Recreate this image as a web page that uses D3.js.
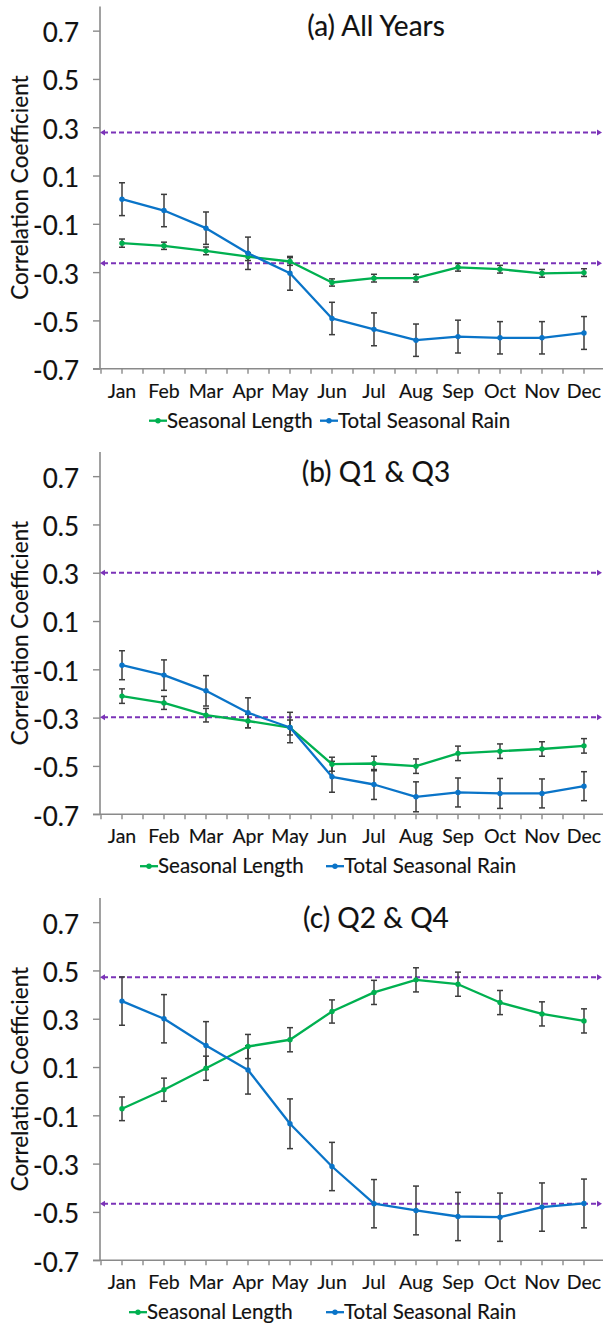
<!DOCTYPE html>
<html>
<head>
<meta charset="utf-8">
<script src="https://cdn.jsdelivr.net/npm/d3@7"></script>
<style>
  html, body { margin: 0; padding: 0; background: #fff; }
  svg { display: block; }
  text { font-family: Lato, Carlito, Calibri, "Open Sans", sans-serif; fill: #111; stroke: #111; stroke-width: 0.15px; }
</style>
</head>
<body>
<svg id="chart" width="603" height="1324"></svg>
<script>
// Months on the category axis
const months = ["Jan", "Feb", "Mar", "Apr", "May", "Jun", "Jul", "Aug", "Sep", "Oct", "Nov", "Dec"];
const yTicks = [0.7, 0.5, 0.3, 0.1, -0.1, -0.3, -0.5, -0.7];
const panelTitles = ["(a) All Years", "(b) Q1 & Q3", "(c) Q2 & Q4"];
const seriesNames = ["Seasonal Length", "Total Seasonal Rain"];

// (a) All years
const lengthA    = [-0.180, -0.191, -0.212, -0.236, -0.256, -0.343, -0.325, -0.325, -0.280, -0.288, -0.305, -0.302];
const lengthErrA = [0.017, 0.015, 0.016, 0.016, 0.016, 0.015, 0.016, 0.016, 0.016, 0.016, 0.016, 0.016];
const rainA      = [0.002, -0.045, -0.118, -0.222, -0.305, -0.492, -0.537, -0.582, -0.567, -0.572, -0.572, -0.552];
const rainErrA   = [0.068, 0.067, 0.067, 0.067, 0.070, 0.067, 0.068, 0.067, 0.068, 0.067, 0.067, 0.068];
const signifA    = [0.278, -0.263];

// (b) Q1 & Q3
const lengthB    = [-0.211, -0.239, -0.290, -0.314, -0.341, -0.493, -0.490, -0.501, -0.448, -0.439, -0.430, -0.417];
const lengthErrB = [0.030, 0.027, 0.028, 0.028, 0.031, 0.029, 0.030, 0.030, 0.030, 0.030, 0.030, 0.030];
const rainB      = [-0.083, -0.124, -0.189, -0.280, -0.341, -0.545, -0.577, -0.628, -0.610, -0.614, -0.614, -0.584];
const rainErrB   = [0.060, 0.063, 0.063, 0.062, 0.063, 0.064, 0.062, 0.062, 0.060, 0.062, 0.060, 0.060];
const signifB    = [0.300, -0.299];

// (c) Q2 & Q4
const lengthC    = [-0.073, 0.006, 0.095, 0.185, 0.213, 0.330, 0.409, 0.461, 0.443, 0.367, 0.320, 0.291];
const lengthErrC = [0.049, 0.048, 0.050, 0.050, 0.050, 0.048, 0.050, 0.050, 0.050, 0.050, 0.050, 0.050];
const rainC      = [0.373, 0.300, 0.189, 0.088, -0.135, -0.312, -0.466, -0.494, -0.519, -0.522, -0.480, -0.465];
const rainErrC   = [0.100, 0.100, 0.099, 0.100, 0.103, 0.100, 0.100, 0.101, 0.100, 0.100, 0.100, 0.101];
const signifC    = [0.472, -0.466];

const panels = [
  { title: panelTitles[0], length: lengthA, lengthErr: lengthErrA, rain: rainA, rainErr: rainErrA, signif: signifA },
  { title: panelTitles[1], length: lengthB, lengthErr: lengthErrB, rain: rainB, rainErr: rainErrB, signif: signifB },
  { title: panelTitles[2], length: lengthC, lengthErr: lengthErrC, rain: rainC, rainErr: rainErrC, signif: signifC }
];

// Layout
const panelTops = [6.5, 452, 898];
const plotH = 362.2;
const axisX = 100;
const legendPos = [
  { g: 149, b: 320 },
  { g: 140, b: 326 },
  { g: 129, b: 326 }
];
const colors = { length: "#00B050", rain: "#0A74C8", signif: "#7B33B8", err: "#3c3c3c", axis: "#8a8a8a" };

const svg = d3.select("#chart");

const x = d3.scaleBand().domain(months).range([101, 605]).paddingInner(0).paddingOuter(0);
const xc = m => x(m) + x.bandwidth() / 2;
const y = d3.scaleLinear().domain([-0.7, 0.8]).range([plotH, 0]);

panels.forEach((p, pi) => {
  const g = svg.append("g").attr("transform", `translate(0,${panelTops[pi]})`);

  // y axis
  const yAxis = d3.axisLeft(y).tickValues(yTicks).tickSize(7).tickPadding(14)
    .tickFormat(d => d.toFixed(1));
  const ya = g.append("g").attr("transform", `translate(${axisX},0)`).call(yAxis);
  ya.select(".domain").attr("stroke", colors.axis).attr("stroke-width", 1.6).attr("d", `M0,0V${plotH}`);
  ya.selectAll(".tick line").attr("stroke", colors.axis).attr("stroke-width", 1.4);
  ya.selectAll(".tick text").attr("font-size", 26).attr("fill", "#111")
    .attr("font-family", "Lato, Carlito, Calibri, sans-serif").attr("dy", "0.42em");

  // x axis
  const xAxis = d3.axisBottom(x).tickSize(5).tickPadding(10);
  const xa = g.append("g").attr("transform", `translate(0,${plotH})`).call(xAxis);
  xa.select(".domain").attr("stroke", colors.axis).attr("stroke-width", 1.6).attr("d", `M${axisX - 7},0H603`);
  xa.selectAll(".tick line").attr("stroke", colors.axis).attr("stroke-width", 1.4);
  xa.selectAll(".tick text").attr("font-size", 19.5).attr("fill", "#111")
    .attr("font-family", "Lato, Carlito, Calibri, sans-serif");
  // boundary ticks between months
  xa.selectAll(".bound").data(months).join("line").attr("class", "bound")
    .attr("x1", d => x(d)).attr("x2", d => x(d)).attr("y1", 0).attr("y2", 5)
    .attr("stroke", colors.axis).attr("stroke-width", 1.4);

  // significance thresholds
  p.signif.forEach(v => {
    g.append("line").attr("x1", axisX + 3).attr("x2", 598)
      .attr("y1", y(v)).attr("y2", y(v))
      .attr("stroke", colors.signif).attr("stroke-width", 2).attr("stroke-dasharray", "5,3");
    g.append("path").attr("d", `M${axisX},${y(v)}l5,-3v6z`).attr("fill", colors.signif);
    g.append("path").attr("d", `M602,${y(v)}l-5,-3v6z`).attr("fill", colors.signif);
  });

  // series
  const series = [
    { vals: p.length, errs: p.lengthErr, color: colors.length },
    { vals: p.rain, errs: p.rainErr, color: colors.rain }
  ];
  const line = d3.line().x((d, i) => xc(months[i])).y(d => y(d));

  series.forEach(s => {
    const eg = g.append("g");
    s.vals.forEach((v, i) => {
      const cx = xc(months[i]);
      const hi = y(v + s.errs[i]), lo = y(v - s.errs[i]);
      eg.append("line").attr("x1", cx).attr("x2", cx).attr("y1", hi).attr("y2", lo)
        .attr("stroke", colors.err).attr("stroke-width", 1.5);
      eg.append("line").attr("x1", cx - 3).attr("x2", cx + 3).attr("y1", hi).attr("y2", hi)
        .attr("stroke", colors.err).attr("stroke-width", 1.5);
      eg.append("line").attr("x1", cx - 3).attr("x2", cx + 3).attr("y1", lo).attr("y2", lo)
        .attr("stroke", colors.err).attr("stroke-width", 1.5);
    });
  });
  series.forEach(s => {
    g.append("path").datum(s.vals).attr("d", line)
      .attr("fill", "none").attr("stroke", s.color).attr("stroke-width", 2.3)
      .attr("stroke-linejoin", "round");
    g.selectAll(null).data(s.vals).join("circle")
      .attr("cx", (d, i) => xc(months[i])).attr("cy", d => y(d)).attr("r", 2.7)
      .attr("fill", s.color);
  });

  // title
  g.append("text").attr("x", 376).attr("y", y(0.8) + 20).attr("dy", "0.35em")
    .attr("text-anchor", "middle").attr("font-size", 28).text(p.title);

  // y axis label
  g.append("text").attr("transform", `translate(20,${plotH / 2}) rotate(-90)`)
    .attr("text-anchor", "middle").attr("dy", "0.35em").attr("font-size", 22.5)
    .text("Correlation Coefficient");

  // legend
  const ly = plotH + 52;
  const lp = legendPos[pi];
  [[lp.g, colors.length, seriesNames[0]], [lp.b, colors.rain, seriesNames[1]]].forEach(([lx, c, name]) => {
    g.append("line").attr("x1", lx).attr("x2", lx + 18).attr("y1", ly).attr("y2", ly)
      .attr("stroke", c).attr("stroke-width", 2.3);
    g.append("circle").attr("cx", lx + 9).attr("cy", ly).attr("r", 2.7).attr("fill", c);
    g.append("text").attr("x", lx + 18).attr("y", ly).attr("dy", "0.35em")
      .attr("font-size", 20.5).text(name);
  });
});
</script>
</body>
</html>
